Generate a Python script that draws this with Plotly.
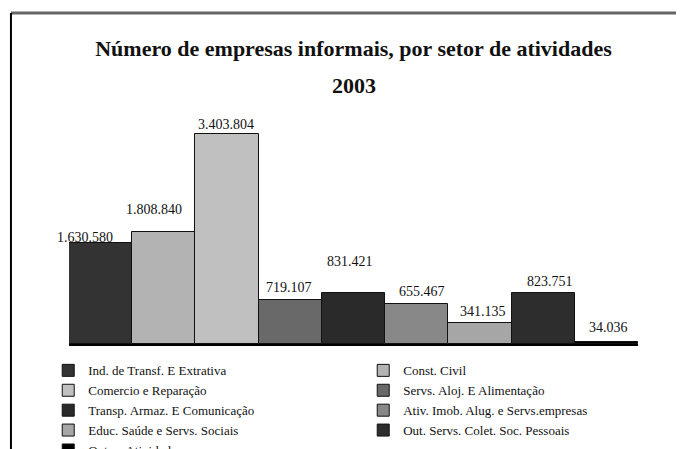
import plotly.graph_objects as go

# ---- data ----
categories = [
    "Ind. de Transf. E Extrativa",
    "Const. Civil",
    "Comercio e Reparação",
    "Servs. Aloj. E Alimentação",
    "Transp. Armaz. E Comunicação",
    "Ativ. Imob. Alug. e Servs.empresas",
    "Educ. Saúde e Servs. Sociais",
    "Out. Servs. Colet. Soc. Pessoais",
    "Outras Atividades",
]
values = [1630580, 1808840, 3403804, 719107, 831421, 655467, 341135, 823751, 34036]
title_line1 = "Número de empresas informais, por setor de atividades"
title_line2 = "2003"

# ---- styles ----
bar_colors = ["#333333", "#b3b3b3", "#c0c0c0", "#696969", "#2a2a2a",
              "#888888", "#a6a6a6", "#2d2d2d", "#000000"]
label_dx = [-16, -10, -1, -1, -4, 5, 3, 7, 2]
label_dy = [6, 23, 10, 12, 31, 12, 11, 12, 14]
FONT = "Liberation Serif, Times New Roman, serif"

def fmt(v):
    return f"{v:,}".replace(",", ".")

fig = go.Figure()
for cat, val, col in zip(categories, values, bar_colors):
    fig.add_trace(go.Bar(
        x=[cat], y=[val], name=cat,
        marker=dict(color=col, line=dict(color="#111111", width=1)),
        hoverinfo="x+y",
    ))

annotations = []
for cat, val, dx, dy in zip(categories, values, label_dx, label_dy):
    annotations.append(dict(
        x=cat, y=val, xref="x", yref="y", text=fmt(val), showarrow=False,
        xanchor="center", yanchor="middle", xshift=dx, yshift=dy,
        font=dict(family=FONT, size=14, color="#111111"),
    ))
annotations.append(dict(
    x=0.5, y=1.156, xref="paper", yref="paper", text=f"<b>{title_line2}</b>",
    showarrow=False, xanchor="center", yanchor="middle",
    font=dict(family=FONT, size=22, color="#111111"),
))

# frame lines (partially visible border of the original chart box)
shapes = [
    dict(type="line", xref="paper", yref="paper", x0=-0.102, x1=1.2,
         y0=1.478, y1=1.478, line=dict(color="#666666", width=3)),
    dict(type="line", xref="paper", yref="paper", x0=-0.102, x1=-0.102,
         y0=1.478, y1=-0.6, line=dict(color="#000000", width=2)),
]

fig.update_layout(
    width=676, height=441,
    margin=dict(l=61, r=46, t=112, b=105, autoexpand=False),
    paper_bgcolor="white", plot_bgcolor="white",
    barmode="relative", bargap=0,
    title=dict(text=f"<b>{title_line1}</b>", x=0.5, xref="paper",
               y=1 - 40 / 441, yref="container", xanchor="center", yanchor="middle",
               font=dict(family=FONT, size=22, color="#111111")),
    xaxis=dict(showticklabels=False, showgrid=False, zeroline=False,
               range=[-0.5, len(categories) - 0.5],
               showline=True, linecolor="#000000", linewidth=2, ticks=""),
    yaxis=dict(visible=False, range=[0, 3630724]),
    showlegend=True,
    legend=dict(orientation="h", x=-0.0365, y=-0.051, xanchor="left", yanchor="top",
                entrywidth=270, entrywidthmode="pixels",
                font=dict(family=FONT, size=13, color="#111111"),
                bgcolor="rgba(0,0,0,0)", traceorder="normal", itemwidth=30),
    annotations=annotations,
    shapes=shapes,
    font=dict(family=FONT),
)

fig.write_html("out.html")
